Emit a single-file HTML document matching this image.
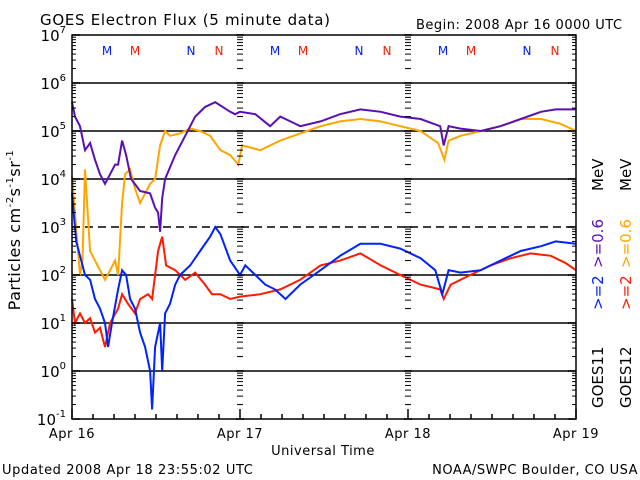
<!DOCTYPE html>
<html><head><meta charset="utf-8"><style>
body{margin:0;background:#fff;}
svg{display:block;font-family:"DejaVu Sans","Liberation Sans",sans-serif;}
</style></head><body>
<svg id="chart" width="640" height="480" viewBox="0 0 640 480" xmlns="http://www.w3.org/2000/svg">
<rect width="640" height="480" fill="#fff"/>
<text x="40" y="25" font-size="15" letter-spacing="0.7">GOES Electron Flux (5 minute data)</text>
<text x="416" y="29" font-size="13" letter-spacing="0.5">Begin: 2008 Apr 16 0000 UTC</text>
<text transform="translate(20,230) rotate(-90)" text-anchor="middle" font-size="16" letter-spacing="0.5">Particles cm<tspan font-size="10" dy="-7">-2</tspan><tspan dy="7">s</tspan><tspan font-size="10" dy="-7">-1</tspan><tspan dy="7">sr</tspan><tspan font-size="10" dy="-7">-1</tspan></text>
<text x="323" y="455" text-anchor="middle" font-size="13" letter-spacing="0.5">Universal Time</text>
<text x="2" y="474" font-size="13" letter-spacing="0.6">Updated 2008 Apr 18 23:55:02 UTC</text>
<text x="638" y="474" text-anchor="end" font-size="13" letter-spacing="0.5">NOAA/SWPC Boulder, CO USA</text>
<g id="grid"></g>
<g id="series"></g>
<g id="axes"></g>
<g font-size="15">
<text transform="translate(603,408) rotate(-90)" fill="#000">GOES11</text>
<text transform="translate(603,310) rotate(-90)" fill="#0022ff">&gt;=2</text>
<text transform="translate(603,268) rotate(-90)" fill="#5a0fb4">&gt;=0.6</text>
<text transform="translate(603,191) rotate(-90)" fill="#000">MeV</text>
<text transform="translate(631,408) rotate(-90)" fill="#000">GOES12</text>
<text transform="translate(631,310) rotate(-90)" fill="#ff1a00">&gt;=2</text>
<text transform="translate(631,268) rotate(-90)" fill="#ffa500">&gt;=0.6</text>
<text transform="translate(631,191) rotate(-90)" fill="#000">MeV</text>
</g>
</svg>
<script>
const yTickExps=[7,6,5,4,3,2,1,0,-1];
const dayLabels=["Apr 16","Apr 17","Apr 18","Apr 19"];
const markerLabels=["M","M","N","N"];
const markerHours=[5,9,17,21];
const purpleHours=[0,0.43,1.14,1.86,2.58,3.29,4.0,4.72,5.44,6.15,6.58,7.15,7.73,8.44,9.73,11.16,11.87,12.3,12.59,12.88,13.3,14.74,16.17,17.6,19.0,20.46,22.6,23.3,24,26.2,28.3,29.76,31.2,32.6,35.5,38.3,41.2,44.1,46.9,49.8,52.6,53.1,53.8,55.5,58.4,61.2,64.1,67,69.1,72];
const purpleVals=[5.6,5.3,5.1,4.6,4.75,4.4,4.1,3.9,4.1,4.3,4.3,4.8,4.5,4.0,3.75,3.7,3.4,3.3,2.9,3.6,4.0,4.5,4.9,5.3,5.5,5.6,5.4,5.35,5.4,5.35,5.1,5.3,5.2,5.1,5.2,5.35,5.45,5.4,5.3,5.25,5.1,4.7,5.1,5.05,5.0,5.1,5.25,5.4,5.45,5.45];
const orangeHours=[0,1.14,1.5,1.86,2.58,3.29,4.0,4.72,5.44,6.15,6.58,7.15,7.58,8.3,9.0,9.73,10.44,11.16,11.87,12.59,13.3,14.0,15.45,16.88,18.3,19.74,21.2,22.6,23.75,24.3,26.9,29.76,32.6,35.5,38.3,41.2,44.1,46.9,49.8,52.3,53.2,53.8,55.5,58.4,61.2,64.1,67,69.8,72];
const orangeVals=[4.05,2.0,2.3,4.2,2.5,2.3,2.1,1.9,2.1,2.3,2.0,3.5,4.1,4.2,3.8,3.5,3.7,3.9,4.0,4.7,5.0,4.9,4.95,5.05,5.0,4.9,4.6,4.5,4.3,4.7,4.6,4.8,4.95,5.1,5.2,5.25,5.2,5.1,5.0,4.75,4.4,4.8,4.9,5.0,5.1,5.25,5.25,5.15,5.0];
const blueHours=[0,0.6,1.14,1.86,2.58,3.29,4.0,4.72,5.15,5.72,6.58,7.15,7.73,8.3,9.0,9.73,10.44,11.16,11.44,11.87,12.59,12.88,13.3,14.0,14.74,15.45,16.88,18.3,19.74,20.46,21.2,22.6,24,24.75,26.2,27.6,29.0,30.5,32.6,35.5,38.3,41.2,44.1,46.9,49.8,51.9,52.9,53.8,55.5,58.4,61.2,64.1,67,69.1,72];
const blueVals=[3.7,2.7,2.4,2.0,1.9,1.5,1.3,1.0,0.5,1.0,1.7,2.1,2.0,1.5,1.3,0.8,0.5,0.0,-0.8,0.5,1.0,0.0,1.2,1.4,1.8,2.0,2.2,2.5,2.8,3.0,2.85,2.3,2.0,2.2,2.0,1.8,1.7,1.5,1.8,2.1,2.4,2.65,2.65,2.55,2.35,2.1,1.6,2.1,2.05,2.1,2.3,2.5,2.6,2.7,2.65];
const redHours=[0,0.43,1.14,1.86,2.58,3.29,4.0,4.72,5.44,6.58,7.15,8.0,9.0,9.73,10.87,11.44,12.3,12.88,13.45,14.74,16.17,17.6,19.0,20.0,21.2,22.6,24,26.9,29.76,32.6,35.5,38.3,41.2,44.1,46.9,49.8,52.6,53.1,54.1,56.9,59.8,62.7,65.5,68.4,70.5,72];
const redVals=[1.5,1.0,1.2,1.0,1.1,0.8,0.9,0.5,1.0,1.3,1.6,1.4,1.2,1.5,1.6,1.5,2.5,2.8,2.2,2.1,1.9,2.05,1.8,1.6,1.6,1.5,1.55,1.6,1.7,1.9,2.2,2.3,2.45,2.2,2.0,1.8,1.7,1.5,1.8,2.0,2.2,2.35,2.45,2.4,2.25,2.1];

const NS="http://www.w3.org/2000/svg";
const X0=72,X1=576,Y0=35,Y1=419;
const xs=h=>X0+(X1-X0)*h/72;
const ys=l=>Y0+(Y1-Y0)*(7-l)/8;
function mk(tag,attrs,parent){const e=document.createElementNS(NS,tag);for(const k in attrs)e.setAttribute(k,attrs[k]);parent.appendChild(e);return e;}
const grid=document.getElementById('grid'),axes=document.getElementById('axes'),ser=document.getElementById('series');

yTickExps.forEach(ex=>{
  const y=ys(ex);
  if(ex<7&&ex>-1){
    const l=mk('line',{x1:X0,x2:X1,y1:y,y2:y,stroke:'#000','stroke-width':1.5},grid);
    if(ex===3)l.setAttribute('stroke-dasharray','8,5');
    
    
  }
  const t=mk('text',{x:X0-6,y:y+6,'text-anchor':'end','font-size':15},axes);
  
  
  t.textContent='10';
  const s=mk('tspan',{dy:-8,'font-size':10},t);s.textContent=String(ex);
  if(ex>-1){
    for(let k=2;k<=9;k++){
      const yy=ys(ex-1+Math.log10(k));
      [[X0,X0+4],[X1-4,X1],[xs(24)-3,xs(24)+3],[xs(48)-3,xs(48)+3]].forEach(p=>{
        const m=mk('line',{x1:p[0],x2:p[1],y1:yy,y2:yy,stroke:'#000','stroke-width':1},axes);
        
        
      });
    }
  }
  [[X0,X0+8],[X1-8,X1],[xs(24)-4,xs(24)+4],[xs(48)-4,xs(48)+4]].forEach(p=>{
    const m=mk('line',{x1:p[0],x2:p[1],y1:y,y2:y,stroke:'#000','stroke-width':1.5},axes);
    
    
  });
});
const frame=mk('rect',{x:X0,y:Y0,width:X1-X0,height:Y1-Y0,fill:'none',stroke:'#000','stroke-width':1.5},axes);


for(let h=0;h<=72;h+=3){
  const len=(h%24===0)?10:5;
  const tk=mk('line',{x1:xs(h),x2:xs(h),y1:Y1,y2:Y1-len,stroke:'#000','stroke-width':1.5},axes);
  
  
}
dayLabels.forEach((d,i)=>{
  const t=mk('text',{x:xs(i*24),y:438,'text-anchor':'middle','font-size':13,'letter-spacing':0.5},axes);
  
  
  t.textContent=d;
});
for(let day=0;day<3;day++){
  markerHours.forEach((h,i)=>{
    const t=mk('text',{x:xs(day*24+h),y:55,'text-anchor':'middle','font-size':12,fill:(i%2===0)?'#0022ff':'#ff1a00'},axes);
    
    
    t.textContent=markerLabels[i];
  });
}
function drawSeries(hrs,vals,color,name){
  let d='';
  hrs.forEach((h,i)=>{d+=(i?'L':'M')+xs(h).toFixed(1)+','+ys(vals[i]).toFixed(1);});
  const p=mk('path',{d:d,fill:'none',stroke:color,'stroke-width':2,'stroke-linejoin':'miter'},ser);
  
  
}
drawSeries(orangeHours,orangeVals,'#ffa500','series-goes12-0.6mev');
drawSeries(purpleHours,purpleVals,'#5a0fb4','series-goes11-0.6mev');
drawSeries(redHours,redVals,'#ff1a00','series-goes12-2mev');
drawSeries(blueHours,blueVals,'#0022ff','series-goes11-2mev');
</script>
</body></html>
